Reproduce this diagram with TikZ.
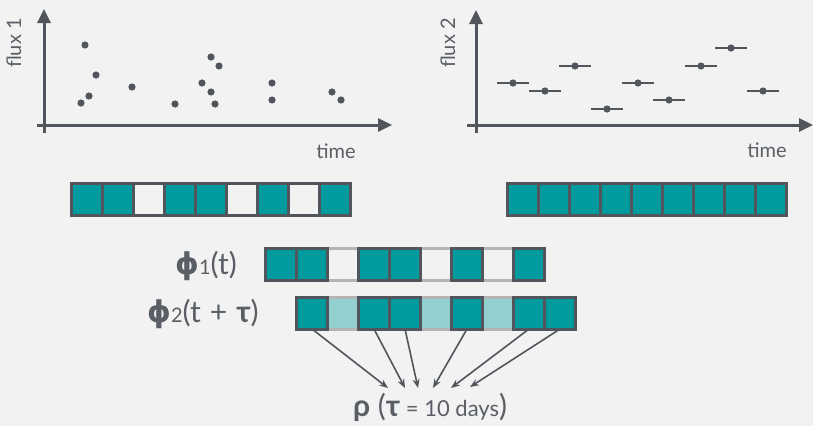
\documentclass[tikz,border=0pt]{standalone}
\usepackage{fontspec}
\setmainfont{Lato}
\newfontfamily\phifont{DejaVu Sans}
\usetikzlibrary{arrows.meta,calc}
\definecolor{bg}{HTML}{F2F2F2}
\definecolor{teal1}{HTML}{009B9E}
\definecolor{tealL}{HTML}{93CFCF}
\definecolor{dgray}{HTML}{51565D}
\definecolor{lgray}{HTML}{B4B4B4}
\definecolor{tgray}{HTML}{5A5F66}
\tikzset{
  cellbox/.style={draw=dgray,line width=3pt,fill=teal1,minimum width=31pt,minimum height=32pt,inner sep=0pt,outer sep=0pt},
  emptybox/.style={cellbox,fill=bg},
  gapbox/.style={draw=none,fill=bg,minimum width=31pt,minimum height=32pt,inner sep=0pt,outer sep=0pt},
  ghostbox/.style={gapbox,fill=tealL},
  gapline/.style={draw=lgray,line width=3pt},
  axis/.style={draw=dgray,line width=3pt,-{Triangle[length=14pt,width=13pt]}},
  dot/.style={fill=dgray},
  ebar/.style={draw=dgray,line width=2pt},
  conn/.style={draw=dgray,line width=1.6pt,-{Stealth[length=9pt,width=7pt]}},
  axlabel/.style={text=tgray,font=\fontsize{20}{20}\selectfont,inner sep=0pt},
  philabel/.style={text=tgray,font=\fontsize{30}{30}\selectfont,inner sep=0pt}
}
\newcommand{\bigphi}{{\phifont\bfseries ϕ}}
\begin{document}
\begin{tikzpicture}[x=1pt,y=-1pt]
\useasboundingbox[fill=bg] (0,0) rectangle (813,426);
% ---- plot 1
\draw[axis] (44,133) -- (44,9);
\draw[axis] (37,125) -- (392,125);
\node[axlabel,rotate=90] (f1) at (14,43) {flux 1};
\node[axlabel,anchor=base] (t1) at (336,158) {time};
\foreach \p in {(85,45),(96,75),(89,96),(81,103),(132,87),(175,104),(211,57),(219,66),(202,83),(211,92),(215,104),(272,83),(272,100),(332,92),(341,100)}
  \fill[dot] \p circle (3.6pt);
% ---- plot 2
\draw[axis] (476,133) -- (476,10);
\draw[axis] (467,125) -- (813,125);
\node[axlabel,rotate=90] (f2) at (448,43) {flux 2};
\node[axlabel,anchor=base] (t2) at (767,157) {time};
\foreach \x/\y in {513/83,545/91,575/66,607/109,638/83,669/100,701/66,731/48,763/91}{
  \draw[ebar] (\x-16,\y) -- (\x+16,\y);
  \fill[dot] (\x,\y) circle (3.6pt);
}
% ---- row 1 left
\foreach \k/\s in {0/cellbox,1/cellbox,2/emptybox,3/cellbox,4/cellbox,5/emptybox,6/cellbox,7/emptybox,8/cellbox}
  \node[\s] (a\k) at ({87+31*\k},199.5) {};
% ---- row 1 right
\foreach \k in {0,...,8}
  \node[cellbox] (b\k) at ({523+31*\k},199.5) {};
% ---- phi1 row
\foreach \k in {2,5,7}{
  \node[gapbox] (p\k) at ({281+31*\k},264) {};
  \draw[gapline] (p\k.north west) -- (p\k.north east);
  \draw[gapline] (p\k.south west) -- (p\k.south east);
}
\foreach \k in {0,1,3,4,6,8}
  \node[cellbox] (p\k) at ({281+31*\k},264) {};
% ---- phi2 row
\foreach \k in {1,4,6}{
  \node[ghostbox] (q\k) at ({312+31*\k},313) {};
  \draw[gapline] (q\k.north west) -- (q\k.north east);
  \draw[gapline] (q\k.south west) -- (q\k.south east);
}
\foreach \k in {0,2,3,5,7,8}
  \node[cellbox] (q\k) at ({312+31*\k},313) {};
% ---- labels
\node[philabel,anchor=base west] (l1) at (175,274) {\bigphi{\fontsize{20}{20}\selectfont 1}(t)};
\node[philabel,anchor=base west] (l2) at (147,322) {\bigphi{\fontsize{20}{20}\selectfont 2}(t\hspace{0.3em}+\hspace{0.3em}\textbf{τ})};
\node[text=tgray,inner sep=0pt,anchor=base west] (rho) at (353,416)
  {{\fontsize{30}{30}\selectfont\textbf{ρ} (\textbf{τ}}{\fontsize{22}{22}\selectfont\ = 10 days}{\fontsize{30}{30}\selectfont )}};
% ---- connectors
\coordinate (e0) at (388,388);
\coordinate (e2) at (405,388);
\coordinate (e3) at (418,388);
\coordinate (e5) at (433,388);
\coordinate (e7) at (451,388);
\coordinate (e8) at (470,387);
\foreach \k in {0,2,3,5,7,8}
  \draw[conn] (q\k.south) -- (e\k);
\end{tikzpicture}
\end{document}
